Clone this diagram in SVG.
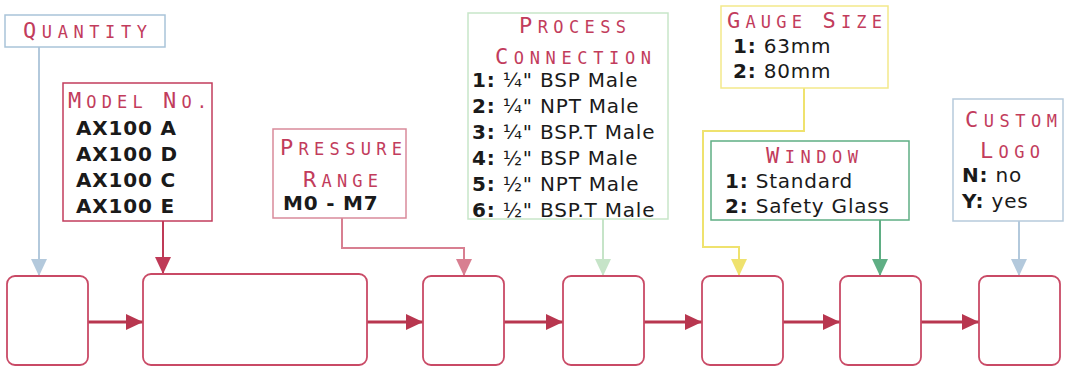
<svg xmlns="http://www.w3.org/2000/svg" width="1066" height="366" viewBox="0 0 1066 366">
<style>
.bg{fill:#ffffff}
.lbl{fill:#ffffff;stroke-width:1.5}
.step{fill:#ffffff;stroke:#c94a66;stroke-width:1.8}
.title{font-family:"DejaVu Sans Mono",monospace;fill:#c23c5c;font-size:17px}
.cap{font-size:22px}
.body{font-family:"DejaVu Sans",sans-serif;font-size:20px;fill:#1a1a1a;letter-spacing:0.8px}
.b{font-weight:bold}
.con{fill:none;stroke-width:2}
.main{fill:none;stroke:#b8364f;stroke-width:3}
</style>
<defs>
<marker id="aRed" markerUnits="userSpaceOnUse" markerWidth="17" markerHeight="16" refX="17" refY="8" orient="auto"><path d="M0,0 L17,8 L0,16 z" fill="#b8364f"/></marker>
<marker id="aBlue" markerUnits="userSpaceOnUse" markerWidth="17" markerHeight="16" refX="17" refY="8" orient="auto"><path d="M0,0 L17,8 L0,16 z" fill="#b3c9dc"/></marker>
<marker id="aCrim" markerUnits="userSpaceOnUse" markerWidth="17" markerHeight="16" refX="17" refY="8" orient="auto"><path d="M0,0 L17,8 L0,16 z" fill="#bf3a57"/></marker>
<marker id="aPink" markerUnits="userSpaceOnUse" markerWidth="17" markerHeight="16" refX="17" refY="8" orient="auto"><path d="M0,0 L17,8 L0,16 z" fill="#d87f91"/></marker>
<marker id="aLGreen" markerUnits="userSpaceOnUse" markerWidth="17" markerHeight="16" refX="17" refY="8" orient="auto"><path d="M0,0 L17,8 L0,16 z" fill="#c6e4c8"/></marker>
<marker id="aYellow" markerUnits="userSpaceOnUse" markerWidth="17" markerHeight="16" refX="17" refY="8" orient="auto"><path d="M0,0 L17,8 L0,16 z" fill="#efe26e"/></marker>
<marker id="aGreen" markerUnits="userSpaceOnUse" markerWidth="17" markerHeight="16" refX="17" refY="8" orient="auto"><path d="M0,0 L17,8 L0,16 z" fill="#5fae84"/></marker>
</defs>
<rect class="bg" x="0" y="0" width="1066" height="366"/>

<g id="connectors">
<path class="con" stroke="#b3c9dc" d="M39,47 V276" marker-end="url(#aBlue)"/>
<path class="con" stroke="#bf3a57" d="M163,221 V274" marker-end="url(#aCrim)"/>
<path class="con" stroke="#d87f91" d="M342,218 V248 H464 V276" marker-end="url(#aPink)"/>
<path class="con" stroke="#c6e4c8" d="M603,219 V276" marker-end="url(#aLGreen)"/>
<path class="con" stroke="#efe26e" d="M804,88 V131 H703 V247 H739 V276" marker-end="url(#aYellow)"/>
<path class="con" stroke="#5fae84" d="M880,220 V276" marker-end="url(#aGreen)"/>
<path class="con" stroke="#b3c9dc" d="M1019,221 V276" marker-end="url(#aBlue)"/>
<path class="main" d="M88,322 H143" marker-end="url(#aRed)"/>
<path class="main" d="M367,322 H423" marker-end="url(#aRed)"/>
<path class="main" d="M504,322 H563" marker-end="url(#aRed)"/>
<path class="main" d="M644,322 H702" marker-end="url(#aRed)"/>
<path class="main" d="M783,322 H840" marker-end="url(#aRed)"/>
<path class="main" d="M921,322 H979" marker-end="url(#aRed)"/>
</g>

<g id="step1"><rect class="step" x="7" y="276" width="81" height="89" rx="8"/></g>
<g id="step2"><rect class="step" x="143" y="274" width="224" height="91" rx="8"/></g>
<g id="step3"><rect class="step" x="423" y="276" width="81" height="89" rx="8"/></g>
<g id="step4"><rect class="step" x="563" y="276" width="81" height="89" rx="8"/></g>
<g id="step5"><rect class="step" x="702" y="276" width="81" height="89" rx="8"/></g>
<g id="step6"><rect class="step" x="840" y="276" width="81" height="89" rx="8"/></g>
<g id="step7"><rect class="step" x="979" y="276" width="81" height="89" rx="8"/></g>

<g id="quantity">
<rect class="lbl" stroke="#a9c4d9" x="5" y="15" width="160" height="32"/>
<text class="title" x="23" y="38" textLength="124" lengthAdjust="spacing"><tspan class="cap">Q</tspan>UANTITY</text>
</g>

<g id="model">
<rect class="lbl" stroke="#c23c5c" x="63" y="83" width="149" height="138"/>
<text class="title" x="68" y="108" textLength="139" lengthAdjust="spacing"><tspan class="cap">M</tspan>ODEL <tspan class="cap">N</tspan>O.</text>
<text class="body b" x="76" y="135">AX100 A</text>
<text class="body b" x="76" y="161">AX100 D</text>
<text class="body b" x="76" y="187">AX100 C</text>
<text class="body b" x="76" y="213">AX100 E</text>
</g>

<g id="pressure">
<rect class="lbl" stroke="#d98a9b" x="273" y="129" width="133" height="89"/>
<text class="title" x="280" y="155" textLength="122" lengthAdjust="spacing"><tspan class="cap">P</tspan>RESSURE</text>
<text class="title" x="303" y="187" textLength="75" lengthAdjust="spacing"><tspan class="cap">R</tspan>ANGE</text>
<text class="body b" x="283" y="210">M0 - M7</text>
</g>

<g id="process">
<rect class="lbl" stroke="#c8e6c9" x="468" y="13" width="200" height="206"/>
<text class="title" x="519" y="33" textLength="107" lengthAdjust="spacing"><tspan class="cap">P</tspan>ROCESS</text>
<text class="title" x="495" y="64" textLength="156" lengthAdjust="spacing"><tspan class="cap">C</tspan>ONNECTION</text>
<text class="body" x="472" y="87"><tspan class="b">1:</tspan> ¼" BSP Male</text>
<text class="body" x="472" y="113"><tspan class="b">2:</tspan> ¼" NPT Male</text>
<text class="body" x="472" y="139"><tspan class="b">3:</tspan> ¼" BSP.T Male</text>
<text class="body" x="472" y="165"><tspan class="b">4:</tspan> ½" BSP Male</text>
<text class="body" x="472" y="191"><tspan class="b">5:</tspan> ½" NPT Male</text>
<text class="body" x="472" y="217"><tspan class="b">6:</tspan> ½" BSP.T Male</text>
</g>

<g id="gauge">
<rect class="lbl" stroke="#f3e98a" x="721" y="6" width="167" height="82"/>
<text class="title" x="727" y="28" textLength="155" lengthAdjust="spacing"><tspan class="cap">G</tspan>AUGE <tspan class="cap">S</tspan>IZE</text>
<text class="body" x="733" y="53"><tspan class="b">1:</tspan> 63mm</text>
<text class="body" x="733" y="78"><tspan class="b">2:</tspan> 80mm</text>
</g>

<g id="window">
<rect class="lbl" stroke="#5fae84" x="711" y="141" width="198" height="79"/>
<text class="title" x="766" y="163" textLength="92" lengthAdjust="spacing"><tspan class="cap">W</tspan>INDOW</text>
<text class="body" x="725" y="188"><tspan class="b">1:</tspan> Standard</text>
<text class="body" x="725" y="213"><tspan class="b">2:</tspan> Safety Glass</text>
</g>

<g id="logo">
<rect class="lbl" stroke="#b6cadb" x="953" y="99" width="110" height="122"/>
<text class="title" x="965" y="127" textLength="92" lengthAdjust="spacing"><tspan class="cap">C</tspan>USTOM</text>
<text class="title" x="980" y="158" textLength="60" lengthAdjust="spacing"><tspan class="cap">L</tspan>OGO</text>
<text class="body" x="962" y="182"><tspan class="b">N:</tspan> no</text>
<text class="body" x="962" y="208"><tspan class="b">Y:</tspan> yes</text>
</g>
</svg>
